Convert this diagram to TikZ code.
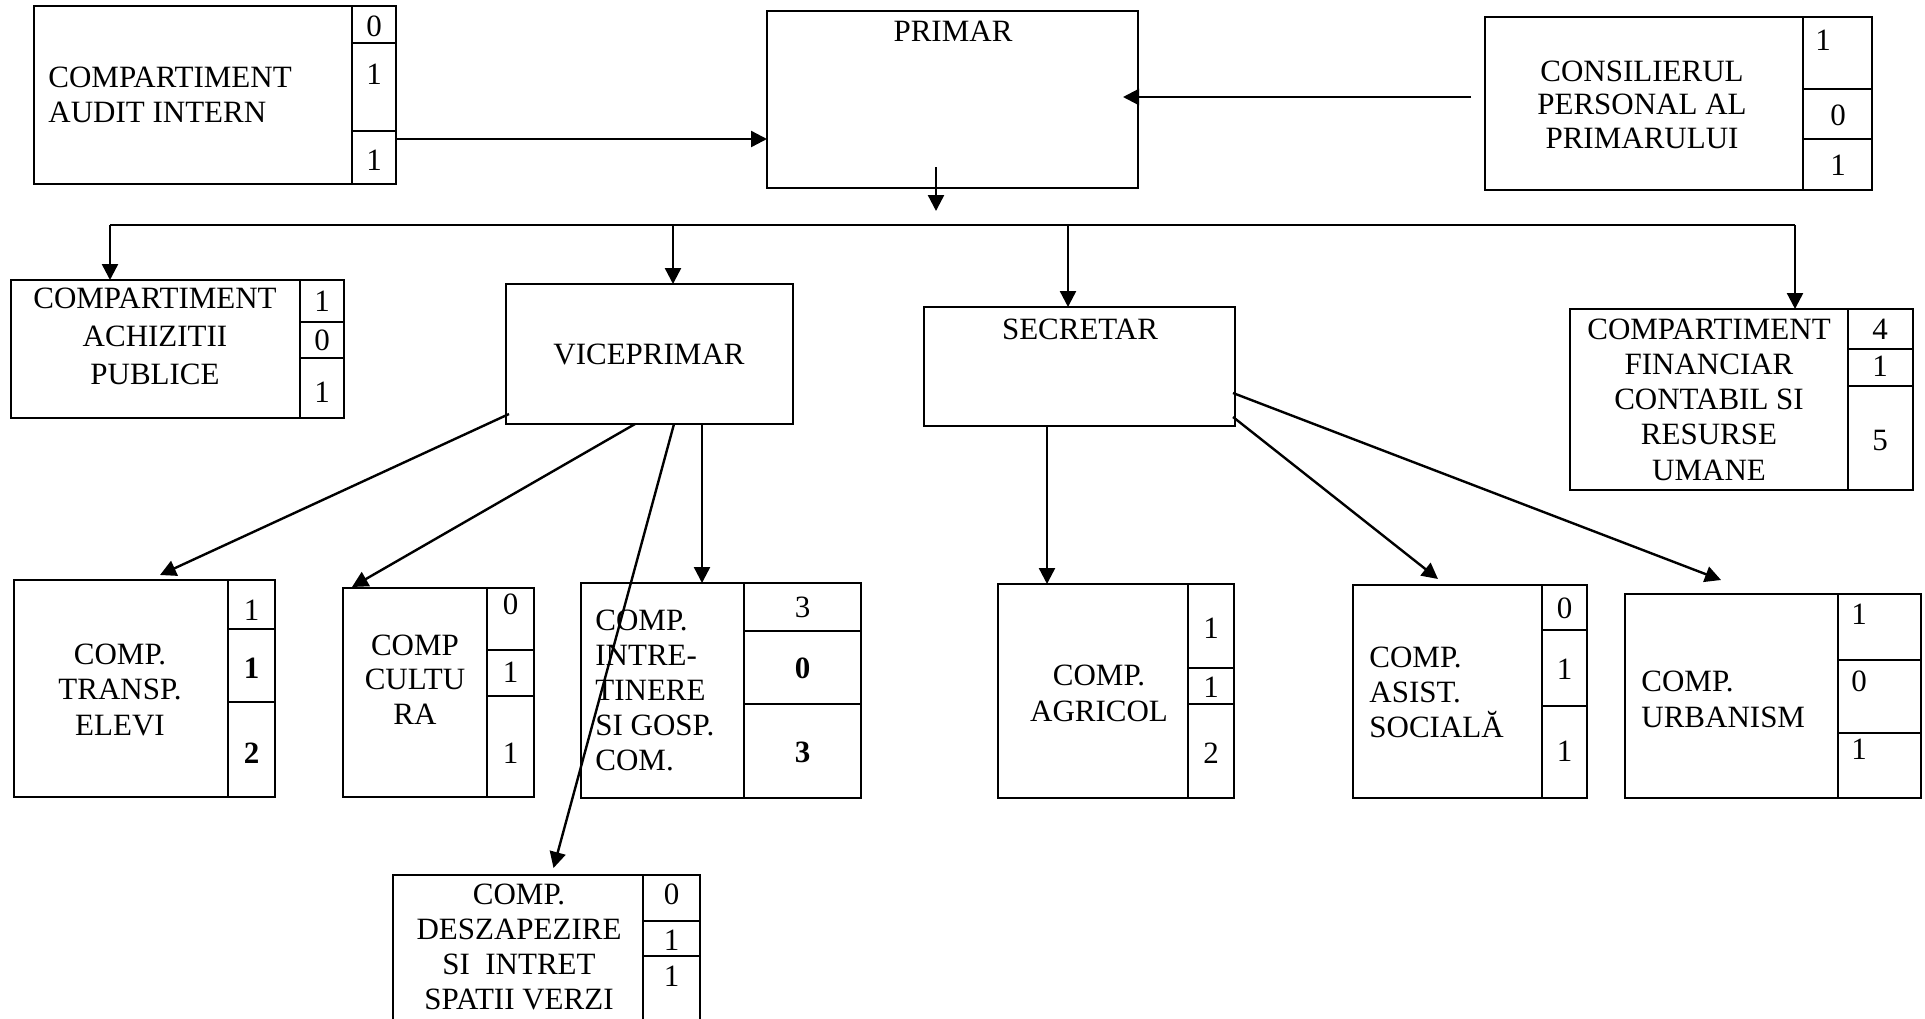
\documentclass[tikz,border=0pt]{standalone}
\usepackage{fontspec}
\setmainfont{Liberation Serif}
\usetikzlibrary{calc,arrows.meta}
\newcommand\orgbox[5]{\node[box,minimum width={(#4-#2)*0.5pt},minimum height={(#5-#3)*0.5pt}] (#1) at (#2,#3) {};}
\begin{document}
\begin{tikzpicture}[x=0.5pt,y=-0.5pt,
  box/.style={draw,line width=1.3pt,inner sep=0,outer sep=0,anchor=north west},
  cell/.style={line width=1.2pt},
  lbl/.style={inner sep=0,font=\fontsize{15.5}{#1}\selectfont},
  lbl/.default=17.5pt,
  num/.style={inner sep=0,font=\fontsize{15.5}{17.5}\selectfont},
  conn/.style={line width=1.2pt,-{Triangle[length=8pt,width=8pt]}},
  bus/.style={line width=1.2pt}]
\useasboundingbox (0,0) rectangle (1925,1018);
\clip (0,0) rectangle (1925,1018);

% ---------- top row ----------
\orgbox{audit}{34}{6}{396}{184}
\draw[cell] (352,6) -- (352,184) (352,43) -- (396,43) (352,131) -- (396,131);
\node[num] (nAuA) at (374,26) {0};
\node[num] (nAuB) at (374,74) {1};
\node[num] (nAuC) at (374,160) {1};
\node[lbl=17.5pt,anchor=west,align=left] (tAudit) at (48,94.5) {COMPARTIMENT\\AUDIT INTERN};

\orgbox{primar}{767}{11}{1138}{188}
\node[lbl] (tPrimar) at (953,31) {PRIMAR};

\orgbox{consil}{1485}{17}{1872}{190}
\draw[cell] (1803,17) -- (1803,190) (1803,89) -- (1872,89) (1803,139) -- (1872,139);
\node[num] (nCoA) at (1823,40) {1};
\node[num] (nCoB) at (1838,115) {0};
\node[num] (nCoC) at (1838,165) {1};
\node[lbl=16.8pt,align=center] (tConsil) at (1642,104.5) {CONSILIERUL\\PERSONAL AL\\PRIMARULUI};

% ---------- second row ----------
\orgbox{achiz}{11}{280}{344}{418}
\draw[cell] (300,280) -- (300,418) (300,322) -- (344,322) (300,358) -- (344,358);
\node[num] (nAcA) at (322,301) {1};
\node[num] (nAcB) at (322,340) {0};
\node[num] (nAcC) at (322,392) {1};
\node[lbl=19pt,align=center] (tAchiz) at (155,336) {COMPARTIMENT\\ACHIZITII\\PUBLICE};

\orgbox{vice}{506}{284}{793}{424}
\node[lbl] (tVice) at (649,354) {VICEPRIMAR};

\orgbox{secr}{924}{307}{1235}{426}
\node[lbl] (tSecr) at (1080,329) {SECRETAR};

\orgbox{fin}{1570}{309}{1913}{490}
\draw[cell] (1848,309) -- (1848,490) (1848,349) -- (1913,349) (1848,386) -- (1913,386);
\node[num] (nFiA) at (1880,329) {4};
\node[num] (nFiB) at (1880,366) {1};
\node[num] (nFiC) at (1880,440) {5};
\node[lbl=17.6pt,align=center] (tFin) at (1709,399.5) {COMPARTIMENT\\FINANCIAR\\CONTABIL SI\\RESURSE\\UMANE};

% ---------- third row ----------
\orgbox{transp}{14}{580}{275}{797}
\draw[cell] (228,580) -- (228,797) (228,629) -- (275,629) (228,702) -- (275,702);
\node[num] (nTrA) at (251.5,610) {1};
\node[num] (nTrB) at (251.5,668) {\textbf{1}};
\node[num] (nTrC) at (251.5,753) {\textbf{2}};
\node[lbl=17.75pt,align=center] (tTransp) at (120,689.5) {COMP.\\TRANSP.\\ELEVI};

\orgbox{cult}{343}{588}{534}{797}
\draw[cell] (487,588) -- (487,797) (487,650) -- (534,650) (487,696) -- (534,696);
\node[num] (nCuA) at (510.5,604) {0};
\node[num] (nCuB) at (510.5,672) {1};
\node[num] (nCuC) at (510.5,753) {1};
\node[lbl=17.25pt,align=center] (tCult) at (415,679.5) {COMP\\CULTU\\RA};

\orgbox{intr}{581}{583}{861}{798}
\draw[cell] (744,583) -- (744,798) (744,631) -- (861,631) (744,704) -- (861,704);
\node[num] (nInA) at (802.5,607) {3};
\node[num] (nInB) at (802.5,668) {\textbf{0}};
\node[num] (nInC) at (802.5,752) {\textbf{3}};
\node[lbl=17.4pt,anchor=west,align=left] (tIntr) at (595,690.5) {COMP.\\INTRE-\\TINERE\\SI GOSP.\\COM.};

\orgbox{agri}{998}{584}{1234}{798}
\draw[cell] (1188,584) -- (1188,798) (1188,668) -- (1234,668) (1188,704) -- (1234,704);
\node[num] (nAgA) at (1211,628) {1};
\node[num] (nAgB) at (1211,687) {1};
\node[num] (nAgC) at (1211,753) {2};
\node[lbl=18pt,align=center] (tAgri) at (1099,693) {COMP.\\AGRICOL};

\orgbox{asist}{1353}{585}{1587}{798}
\draw[cell] (1542,585) -- (1542,798) (1542,630) -- (1587,630) (1542,706) -- (1587,706);
\node[num] (nAsA) at (1564.5,608) {0};
\node[num] (nAsB) at (1564.5,669) {1};
\node[num] (nAsC) at (1564.5,751) {1};
\node[lbl=17.5pt,anchor=west,align=left] (tAsist) at (1369,692) {COMP.\\ASIST.\\SOCIALĂ};

\orgbox{urb}{1625}{594}{1921}{798}
\draw[cell] (1838,594) -- (1838,798) (1838,660) -- (1921,660) (1838,733) -- (1921,733);
\node[num,anchor=west] (nUrA) at (1851,614) {1};
\node[num,anchor=west] (nUrB) at (1851,681) {0};
\node[num,anchor=west] (nUrC) at (1851,749) {1};
\node[lbl=18pt,anchor=west,align=left] (tUrb) at (1641,699) {COMP.\\URBANISM};

% ---------- bottom ----------
\orgbox{desz}{393}{875}{700}{1040}
\draw[cell] (643,875) -- (643,1040) (643,921) -- (700,921) (643,956) -- (700,956);
\node[num] (nDeA) at (671.5,894) {0};
\node[num] (nDeB) at (671.5,940) {1};
\node[num] (nDeC) at (671.5,976) {1};
\node[lbl=17.5pt,align=center] (tDesz) at (519,946.5) {COMP.\\DESZAPEZIRE\\SI\ \ INTRET\\SPATII VERZI};

% ---------- connectors ----------
\coordinate (a1) at ($(audit.east)+(0,44)$);
\draw[conn] (a1) -- (a1 -| primar.west);

\coordinate (c1) at ($(consil.west)+(-14,-6.5)$);
\coordinate (c2) at ($(primar.east)+(-15,-2.5)$);
\draw[conn] (c1) -- (c2);

\coordinate (p1) at ($(primar.south)+(-16.5,-21)$);
\coordinate (p2) at ($(primar.south)+(-16.5,23)$);
\draw[conn] (p1) -- (p2);

\coordinate (busL) at ($(achiz.north)+(-67.5,-55)$);
\coordinate (busR) at ($(fin.north)+(53.5,-84)$);
\draw[bus] (busL) -- (busR);
\draw[conn] (busL) -- (busL |- achiz.north);
\coordinate (dV) at ($(vice.north)+(23.5,0)$);
\draw[conn] (dV |- busL) -- (dV);
\coordinate (dS) at ($(secr.north)+(-11.5,0)$);
\draw[conn] (dS |- busL) -- (dS);
\draw[conn] (busR) -- (busR |- fin.north);

\draw[conn] ($(vice.south west)+(3,-10)$) -- ($(transp.north)+(15.5,-5)$);
\draw[conn] ($(vice.south west)+(129,0)$) -- ($(cult.north west)+(9,-1)$);
\draw[conn] ($(vice.south)+(24.5,0)$) -- ($(desz.north)+(7,-7)$);
\coordinate (v4) at ($(vice.south)+(52.5,0)$);
\draw[conn] (v4) -- (v4 |- intr.north);

\coordinate (s1) at ($(secr.south)+(-32.5,0)$);
\draw[conn] (s1) -- (s1 |- agri.north);
\draw[conn] ($(secr.south east)+(-2,-9)$) -- ($(asist.north)+(-32,-6)$);
\draw[conn] ($(secr.east)+(-2,26.5)$) -- ($(urb.north)+(-52,-14)$);
\end{tikzpicture}
\end{document}
